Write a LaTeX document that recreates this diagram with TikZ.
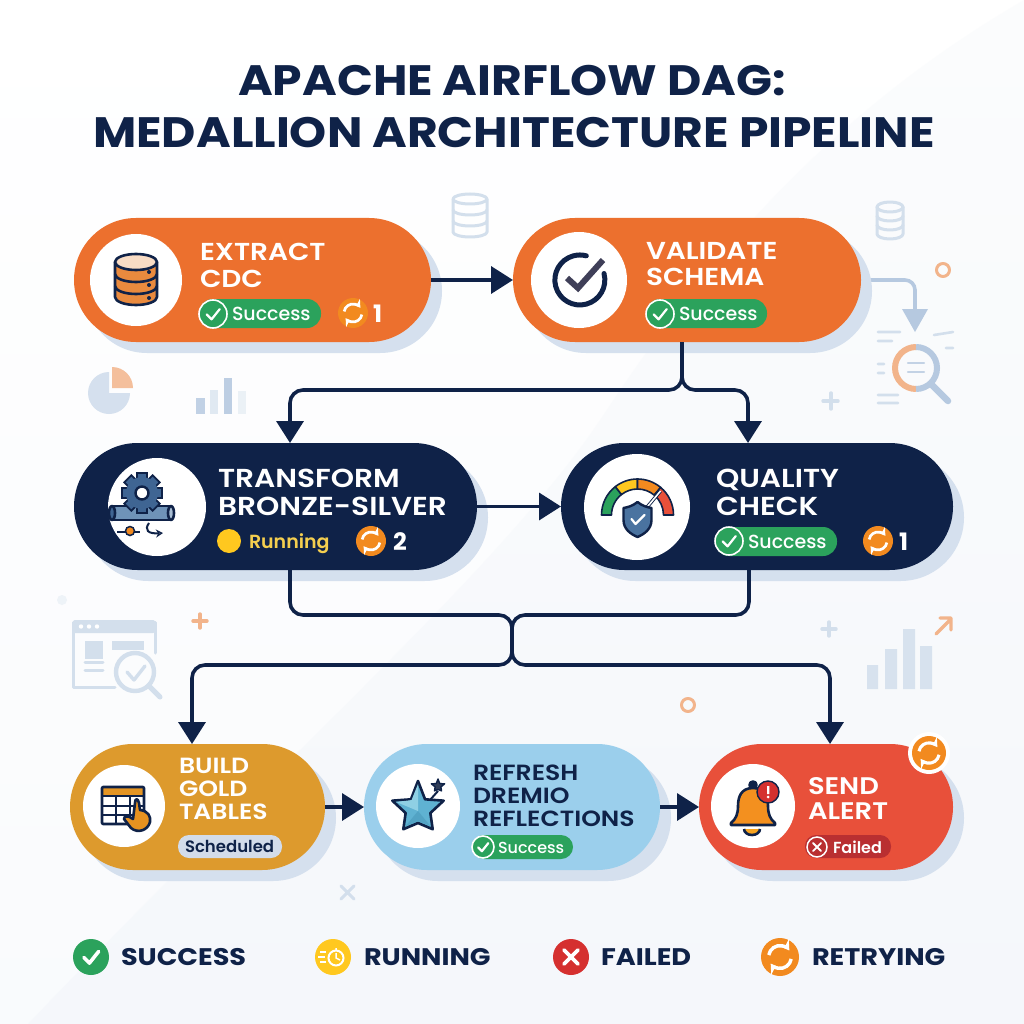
\documentclass[tikz,border=0pt]{standalone}
\usepackage{fontspec}
\setmainfont{Poppins}[BoldFont={Poppins Bold}]
\newfontfamily\wideB{Poppins Bold}[FakeStretch=1.11]
\newfontfamily\legB{Poppins Bold}[FakeStretch=1.13]
\newfontfamily\capS{Poppins SemiBold}[FakeStretch=1.14]
\newfontfamily\semiF{Poppins SemiBold}
\newfontfamily\medF{Poppins Medium}
\usetikzlibrary{arrows.meta,shadows,calc}
\definecolor{navy}{HTML}{0F2248}
\definecolor{orangepill}{HTML}{EC702E}
\definecolor{goldpill}{HTML}{DD9A2D}
\definecolor{skypill}{HTML}{9BCFEC}
\definecolor{redpill}{HTML}{E8503A}
\definecolor{shadowblue}{HTML}{D5E0EE}
\definecolor{okgreen}{HTML}{2BA25C}
\definecolor{retryorange}{HTML}{F28A1F}
\definecolor{runyellow}{HTML}{FFC81F}
\definecolor{runtext}{HTML}{F5CF4F}
\definecolor{failred}{HTML}{D5302F}
\definecolor{faildark}{HTML}{B92F31}
\definecolor{decoblue}{HTML}{D3DFEC}
\definecolor{decomid}{HTML}{B6C9E0}
\definecolor{decoorange}{HTML}{F2B48B}
\definecolor{schedfill}{HTML}{D3DCEA}
\definecolor{gearblue}{HTML}{3F6593}
\definecolor{pipeblue}{HTML}{6F93B8}
\definecolor{dborange}{HTML}{E98A3E}
\definecolor{checkdark}{HTML}{3F3F58}
\definecolor{starblue}{HTML}{5FB2D2}
\definecolor{starlight}{HTML}{8FD0E4}
\definecolor{stardark}{HTML}{4A9ABB}
\definecolor{shieldblue}{HTML}{4A73A0}
\tikzset{
  x=1pt,y=-1pt,
  pill/.style={rounded corners=#1,inner sep=0pt,outer sep=0pt,
    general shadow={shadow xshift=11pt,shadow yshift=-11pt,fill=shadowblue}},
  conn/.style={draw=navy,line width=3.6pt,rounded corners=13pt},
  tip/.style={-{Triangle[length=22pt,width=27pt]}},
  whitedisc/.style={fill=white},
  ttl/.style={font=\capS\fontsize{#1}{#1}\selectfont,anchor=base west,inner sep=0pt,outer sep=0pt},
  stat/.style={font=\medF\fontsize{#1}{#1}\selectfont,anchor=base west,inner sep=0pt,outer sep=0pt},
  statb/.style={font=\semiF\fontsize{#1}{#1}\selectfont,anchor=base west,inner sep=0pt,outer sep=0pt},
  digit/.style={font=\bfseries\fontsize{24}{24}\selectfont,text=white,anchor=base west,inner sep=0pt,outer sep=0pt},
  legendtxt/.style={font=\legB\fontsize{24}{24}\selectfont,text=navy,anchor=base west,inner sep=0pt,outer sep=0pt},
  titletxt/.style={font=\wideB\fontsize{42.5}{42.5}\selectfont,text=navy,anchor=base,inner sep=0pt},
  icon/.style={draw=navy,line width=2.6pt,line join=round},
  deco/.style={draw=decoblue,line width=3pt,line cap=round,line join=round},
  decoo/.style={draw=decoorange,line width=3.4pt,line cap=round,line join=round},
}
\newcommand{\retryglyph}[3]{% x y r
  \begin{scope}[shift={(#1,#2)},scale=#3]
    \pgfmathsetmacro\rw{.18*#3}\pgfmathsetmacro\rl{.5*#3}\pgfmathsetmacro\rb{.62*#3}
    \draw[white,line width=\rw pt,-{Stealth[length=\rl pt,width=\rb pt]}] (190:.6) arc[start angle=190,end angle=325,radius=.6];
    \draw[white,line width=\rw pt,-{Stealth[length=\rl pt,width=\rb pt]}] (10:.6) arc[start angle=10,end angle=145,radius=.6];
  \end{scope}}
\newcommand{\retrybadge}[3]{\fill[retryorange] (#1,#2) circle[radius=#3];\retryglyph{#1}{#2}{#3}}
\newcommand{\checkmk}[4]{% x y r width
  \begin{scope}[shift={(#1,#2)},scale=#3]
    \draw[white,line width=#4pt,line cap=round,line join=round] (-.45,.03)--(-.1,.38)--(.48,-.35);
  \end{scope}}
\newcommand{\successpill}[8]{% x1 y1 x2 y2 cx cy corner r
  \fill[okgreen,rounded corners=#7] (#1,#2) rectangle (#3,#4);
  \fill[okgreen] (#5,#6) circle[radius=#8];
  \draw[white,line width=1.6pt] (#5,#6) circle[radius=#8];
  \checkmk{#5}{#6}{#8}{2.2}}
\newcommand{\dbdeco}[5]{% cx top halfw band nbands
  \begin{scope}[shift={(#1,#2)}]
   \draw[deco] (0,0) ellipse[x radius=#3,y radius=5];
   \draw[deco] (-#3,0) -- (-#3,#4*#5) arc[x radius=#3,y radius=5,start angle=180,end angle=0] -- (#3,0);
   \foreach \k in {1,...,#5}{\ifnum\k<#5 \draw[deco] (-#3,#4*\k) arc[x radius=#3,y radius=5,start angle=180,end angle=0];\fi}
  \end{scope}}
\newcommand{\gaugeseg}[3]{\filldraw[fill=#3,draw=navy,line width=1.6pt,line join=round] (#1:36) arc[start angle=#1,end angle=#2,radius=36] -- (#2:26) arc[start angle=#2,end angle=#1,radius=26] -- cycle;}
\begin{document}
\begin{tikzpicture}
\useasboundingbox (0,0) rectangle (1024,1024);
% background
\shade[shading=axis,left color=white,right color=white!86!shadowblue,shading angle=0] (0,0) rectangle (1024,1024);
\shade[shading=axis,top color=white!85!shadowblue,bottom color=white!68!shadowblue,opacity=.5] (1024,0) -- (1024,1024) -- (28,1024) .. controls (250,790) and (500,570) .. (600,420) .. controls (680,300) and (800,130) .. (1024,0) -- cycle;

% decoration
\dbdeco{470}{199}{17}{11}{3}
\dbdeco{890}{207}{13}{9}{3}
\draw[decoo,line width=3pt] (943,270) circle[radius=6.5];
\draw[decomid,line width=3.6pt,rounded corners=10pt] (861,280) -- (915,280) -- (915,312);
\fill[decomid] (902,309) -- (928,309) -- (915,332) -- cycle;
\draw[draw=decomid,line width=6.5pt,line cap=round] (931,384) -- (948,401);
\draw[decoorange,line width=6pt] (916,347) arc[start angle=-90,end angle=-270,radius=21];
\draw[decomid,line width=6pt] (916,347) arc[start angle=-90,end angle=90,radius=21];
\draw[decomid,line width=2.4pt,line cap=round,opacity=.8] (908,363)--(924,363) (908,372)--(924,372);
\draw[deco,line width=2.6pt] (878,332)--(900,332) (878,341)--(892,341) (878,364)--(884,364) (878,373)--(884,373) (878,395)--(898,395) (878,403)--(898,403) (934,335)--(953,332) (946,348)--(953,348);
\draw[deco,line width=3.4pt] (823,401)--(838,401) (831,393)--(831,409);
\fill[shadowblue] (109,393) -- (109,372) arc[start angle=-90,end angle=-360,radius=21] -- cycle;
\fill[decoorange!85!white] (112,367) arc[start angle=-90,end angle=0,radius=21] -- (112,388) -- cycle;
\fill[decomid!85!white] (196,398) rectangle (205,414);
\fill[decoblue!70!white] (210,390) rectangle (218,414);
\fill[decomid!90!white] (224,378) rectangle (232,414);
\fill[decoblue!45!white] (238,391) rectangle (246,414);
\fill[shadowblue!40!white] (62,600) circle[radius=5];
% window
\draw[deco,line width=3pt] (115,687) -- (73,687) -- (73,622) -- (155,622) -- (155,653);
\fill[decoblue,rounded corners=2pt] (73,620) rectangle (155,633);
\fill[white] (81,626.5) circle[radius=2.2] (89,626.5) circle[radius=2.2] (97,626.5) circle[radius=2.2];
\fill[decoblue] (85,641) rectangle (103,659);
\fill[decoblue] (112,641) rectangle (144,650);
\draw[deco] (85,662)--(103,662) (85,670)--(103,670);
\draw[deco,line width=4.4pt] (135,672) circle[radius=19];
\draw[deco,line width=5pt] (150,687)--(160,697);
\draw[deco,line width=3.4pt] (127,672)--(134,680)--(145,666);
\draw[decoo] (193,621)--(207,621) (200,614)--(200,628);
\draw[deco,line width=3.4pt] (822,629)--(836,629) (829,622)--(829,636);
\fill[decoblue!90!white] (867,665) rectangle (878,689) (885,649) rectangle (897,689) (903,629) rectangle (915,689) (920,646) rectangle (932,689);
\draw[decoo] (936,634)--(951,619) (940,618)--(951,618)--(951,630);
\draw[decoo,line width=3pt] (688,705) circle[radius=6.5];
\draw[deco,line width=3pt] (341,886)--(354,899) (354,886)--(341,899);

% title
\node[titletxt] (title1) at (512,96) {APACHE AIRFLOW DAG:};
\node[titletxt] (title2) at (514,148) {MEDALLION ARCHITECTURE PIPELINE};

% connector geometry
\coordinate (busA) at (682,390);
\coordinate (tIn) at (290,443);
\coordinate (qIn) at (748,443);
\coordinate (busB) at (512,615);
\coordinate (busC) at (512,665);
\coordinate (tOut) at (290,570);
\coordinate (qOut) at (749,570);
\coordinate (bIn) at (192,744);
\coordinate (sIn) at (830,744);

% pills
\node[pill=62pt,fill=orangepill,minimum width=357pt,minimum height=124pt] (extract) at (252.5,280) {};
\node[pill=62pt,fill=orangepill,minimum width=348pt,minimum height=124pt] (validate) at (687,280) {};
\node[pill=63.5pt,fill=navy,minimum width=403pt,minimum height=127pt] (transform) at (275.5,506.5) {};
\node[pill=63.5pt,fill=navy,minimum width=392pt,minimum height=127pt] (quality) at (757,506.5) {};
\node[pill=63pt,fill=goldpill,minimum width=255pt,minimum height=126pt] (build) at (197.5,807) {};
\node[pill=63pt,fill=skypill,minimum width=296pt,minimum height=126pt] (refresh) at (512,807) {};
\node[pill=63pt,fill=redpill,minimum width=254pt,minimum height=126pt] (alert) at (826,807) {};

% connectors
\draw[conn,tip] (extract.east) -- (validate.west);
\draw[conn,tip] (validate.south -| busA) -- (busA) -- (busA -| tIn) -- (tIn);
\draw[conn,tip] (validate.south -| busA) -- (busA) -- (busA -| qIn) -- (qIn);
\draw[conn,tip] (transform.east) -- (quality.west);
\draw[conn,tip] (tOut) -- (tOut |- busB) -- (busB) -- (busC) -- (busC -| bIn) -- (bIn);
\draw[conn,tip] (qOut) -- (qOut |- busB) -- (busB) -- (busC) -- (busC -| sIn) -- (sIn);
\draw[conn,tip] (build.east) -- (refresh.west);
\draw[conn,tip] (refresh.east) -- (alert.west);

% white icon discs
\fill[whitedisc] (136,280) circle[radius=46];
\fill[whitedisc] (579,280) circle[radius=48];
\fill[whitedisc] (157,507) circle[radius=49];
\fill[whitedisc] (637,507) circle[radius=53];
\fill[whitedisc] (124,806) circle[radius=41];
\fill[whitedisc] (418,806) circle[radius=42];
\fill[whitedisc] (753,806) circle[radius=42];

% extract icon
\begin{scope}[shift={(136,0)}]
  \filldraw[icon,fill=dborange] (-21,262) -- (-21,297) arc[x radius=21,y radius=8,start angle=180,end angle=0] -- (21,262) -- cycle;
  \draw[icon] (-21,274) arc[x radius=21,y radius=8,start angle=180,end angle=0];
  \draw[icon] (-21,286) arc[x radius=21,y radius=8,start angle=180,end angle=0];
  \filldraw[icon,fill=dborange!30!white] (0,262) ellipse[x radius=21,y radius=8];
  \fill[navy] (13,272) circle[radius=2] (13,285) circle[radius=2] (13,298) circle[radius=2];
\end{scope}
% validate icon
\draw[navy,line width=5pt,line cap=round] (604,273.5) arc[start angle=-15,end angle=285,radius=25];
\draw[draw=checkdark,line width=6pt,line join=miter] (567,278) -- (578,288) -- (603,260);
% transform icon
\filldraw[icon,fill=pipeblue] (112,506) rectangle (170,520);
\filldraw[icon,fill=pipeblue!60!white] (171,513) ellipse[x radius=3,y radius=7];
\filldraw[icon,fill=gearblue] (112,513) ellipse[x radius=3,y radius=7];
\begin{scope}[shift={(142,493)}]
  \foreach \a in {0,45,...,315}{\filldraw[rotate=\a,fill=gearblue,draw=navy,line width=1.8pt] (14,-5) rectangle (20,5);}
  \filldraw[fill=gearblue,draw=none] (0,0) circle[radius=16];
  \filldraw[fill=white,draw=navy,line width=2.4pt] (0,0) circle[radius=6.5];
\end{scope}
\draw[navy,line width=2pt] (117,532)--(140,532);
\filldraw[fill=retryorange,draw=navy,line width=1.5pt] (130,531) circle[radius=4.5];
\draw[navy,line width=2pt,-{Stealth[length=7pt,width=8pt,open]}] (149,523) .. controls (144,530) and (148,534) .. (163,533);
% quality icon
\begin{scope}[shift={(637.5,515)}]
  \gaugeseg{180}{232}{okgreen}
  \gaugeseg{232}{270}{runyellow}
  \gaugeseg{270}{310}{retryorange}
  \gaugeseg{310}{360}{redpill}
  \draw[navy,line width=3.4pt] (8,-6) -- (23,-24);
  \draw[white,line width=1.6pt] (8,-6) -- (23,-24);
  \filldraw[fill=shieldblue,draw=navy,line width=2.4pt,line join=round] (0,-13) .. controls (5,-9) and (9,-8) .. (14,-7) -- (14,5) .. controls (14,14) and (7,19) .. (0,22) .. controls (-7,19) and (-14,14) .. (-14,5) -- (-14,-7) .. controls (-9,-8) and (-5,-9) .. (0,-13) -- cycle;
  \draw[white,line width=2.2pt,line cap=round,line join=round] (-6,4)--(-2,9)--(7,0);
\end{scope}
% build icon
\fill[goldpill!80!orange] (102,787) rectangle (144,796);
\draw[icon,rounded corners=1pt] (102,787) rectangle (144,824);
\draw[navy,line width=2pt] (102,796)--(144,796) (102,806)--(144,806) (102,815)--(144,815) (116,796)--(116,824) (130,796)--(130,824);
\filldraw[icon,fill=goldpill!70!orange] (135,803) .. controls (135,798) and (138,798) .. (139,803) -- (140,810) .. controls (148,811) and (151,816) .. (150,822) .. controls (148,830) and (138,834) .. (131,828) -- (124,819) .. controls (124,816) and (128,815) .. (133,819) -- cycle;
% refresh icon
\begin{scope}[shift={(418,809)}]
  \filldraw[line join=round,draw=navy,line width=2.6pt,fill=starblue] (-90:28) -- (-54:12) -- (-18:27) -- (18:13) -- (54:25) -- (90:14) -- (126:25) -- (162:13) -- (198:27) -- (234:12) -- cycle;
  \fill[starlight] (-90:25) -- (0,2) -- (198:23) -- (234:11) -- cycle;
  \fill[stardark,opacity=.6] (0,2) -- (126:21) -- (90:12) -- (54:21) -- cycle;
  \draw[navy,line width=2pt] (12,-9) -- (20,-18);
\end{scope}
\begin{scope}[shift={(438,786)}]
  \filldraw[line join=round,draw=navy,line width=1.4pt,fill=navy!70!gray] (-90:7) -- (-54:3) -- (-18:7) -- (18:3) -- (54:6) -- (90:3.5) -- (126:6) -- (162:3) -- (198:7) -- (234:3) -- cycle;
\end{scope}
% alert icon
\filldraw[icon,fill=navy] (753,785) circle[radius=3.5];
\filldraw[icon,fill=runyellow!40!retryorange] (744,829) arc[x radius=8,y radius=6,start angle=180,end angle=0];
\filldraw[icon,fill=retryorange!90!runyellow] (753,788) .. controls (741,788) and (738,797) .. (738,806) .. controls (738,814) and (736,819) .. (731,823) -- (731,825) -- (775,825) -- (775,823) .. controls (770,819) and (768,814) .. (768,806) .. controls (768,797) and (765,788) .. (753,788) -- cycle;
\filldraw[fill=failred,draw=navy,line width=1.4pt] (768,792) circle[radius=11];
\fill[white] (767,786) rectangle (769.4,794) (768.2,797) circle[radius=1.5];

% titles in pills
\node[ttl=24.5,text=white] (t1) at (200,260) {EXTRACT};
\node[ttl=24.5,text=white] (t1b) at (200,287) {CDC};
\node[ttl=24.5,text=white] (t2) at (646,259) {VALIDATE};
\node[ttl=24.5,text=white] (t2b) at (646,285) {SCHEMA};
\node[ttl=26,text=white] (t3) at (218,487) {TRANSFORM};
\node[ttl=26,text=white] (t3b) at (218,515) {BRONZE-SILVER};
\node[ttl=26,text=white] (t4) at (716,487) {QUALITY};
\node[ttl=26,text=white] (t4b) at (716,515) {CHECK};
\node[ttl=22,text=white] (t5) at (179,773) {BUILD};
\node[ttl=22,text=white] (t5b) at (179,796) {GOLD};
\node[ttl=22,text=white] (t5c) at (179,819) {TABLES};
\node[ttl=22,text=navy] (t6) at (473,780) {REFRESH};
\node[ttl=22,text=navy] (t6b) at (473,803) {DREMIO};
\node[ttl=22,text=navy] (t6c) at (473,826) {REFLECTIONS};
\node[ttl=24,text=white] (t7) at (808,794) {SEND};
\node[ttl=24,text=white] (t7b) at (808,819) {ALERT};

% status: extract
\successpill{199}{299}{321}{328}{213}{314}{14pt}{14}
\node[stat=19,text=white] (s1) at (232,320) {Success};
\retrybadge{353}{313}{15}
\node[digit] (r1) at (373,322) {1};
% status: validate
\successpill{646}{299}{767}{328}{660}{314}{14pt}{14}
\node[stat=19,text=white] (s2) at (679,320) {Success};
% status: transform
\fill[runyellow] (229,541) circle[radius=12];
\node[statb=19,text=runtext] (s3) at (249,548) {Running};
\retrybadge{371}{541}{15}
\node[digit] (r3) at (393,550) {2};
% status: quality
\successpill{715}{527}{837}{556}{729}{541}{14pt}{14}
\node[stat=19,text=white] (s4) at (748,548) {Success};
\retrybadge{878}{541}{15}
\node[digit] (r4) at (899,550) {1};
% status: build
\fill[schedfill,rounded corners=11pt] (178,835) rectangle (282,858);
\node[statb=16.5,text=navy] (s5) at (185,852.5) {Scheduled};
% status: refresh
\successpill{472}{835}{573}{859}{483}{847}{12pt}{11}
\node[stat=16,text=white] (s6) at (498,853) {Success};
% status: alert
\fill[faildark,rounded corners=11pt] (805,835) rectangle (891,858);
\draw[white,line width=1.5pt] (817,847) circle[radius=10];
\draw[white,line width=1.8pt,line cap=round] (813,843)--(821,851) (821,843)--(813,851);
\node[statb=16,text=white] (s7) at (833,853) {Failed};
\fill[white] (929,753) circle[radius=21];
\retrybadge{929}{753}{17}

% legend
\fill[okgreen] (91,957) circle[radius=18];
\checkmk{91}{957}{16}{3.6}
\node[legendtxt] (l1) at (121,965.5) {SUCCESS};
\fill[runyellow] (333,957) circle[radius=18];
\draw[white,line width=2pt] (336,958) circle[radius=7.5];
\draw[white,line width=1.5pt] (336,953)--(336,958)--(340,960) (336,950)--(336,948);
\draw[white,line width=1.6pt] (320,952)--(326,952) (318,957)--(325,957) (320,962)--(326,962);
\node[legendtxt] (l2) at (364,965.5) {RUNNING};
\fill[failred] (571,957) circle[radius=18];
\draw[white,line width=3.6pt,line cap=round] (564,950)--(578,964) (578,950)--(564,964);
\node[legendtxt] (l3) at (601,965.5) {FAILED};
\retrybadge{780}{957}{19}
\node[legendtxt] (l4) at (812,965.5) {RETRYING};
\end{tikzpicture}
\end{document}
